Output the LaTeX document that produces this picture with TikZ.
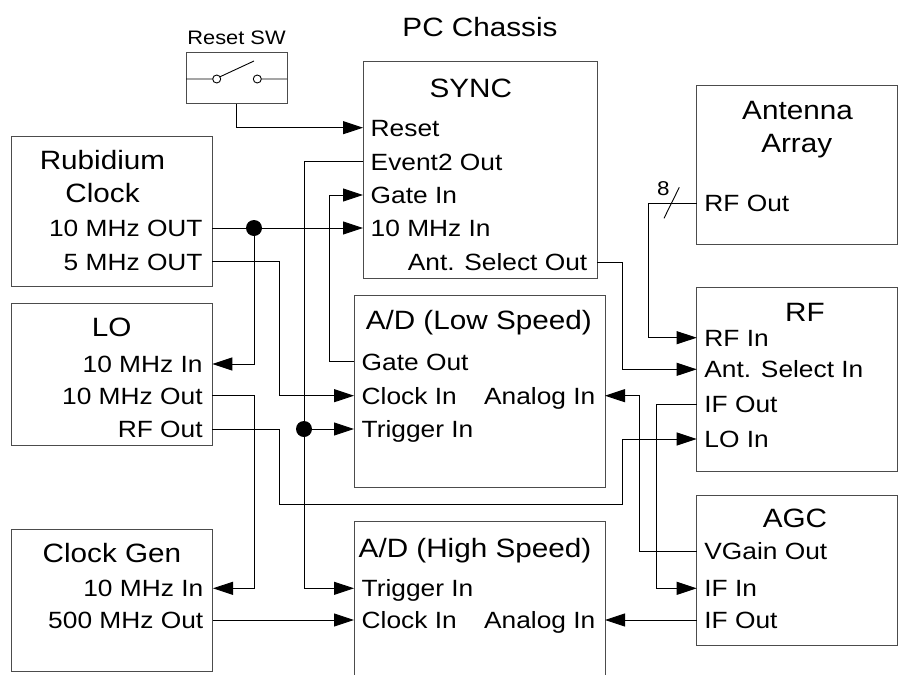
\documentclass[tikz,border=0pt]{standalone}
\usepackage{fontspec}
\setmainfont{Liberation Sans}[FakeStretch=1.12]
\usetikzlibrary{arrows.meta}
\begin{document}
\begin{tikzpicture}[x=1pt,y=-1pt,
  blk/.style={draw=black!70,line width=1pt,inner sep=0pt},
  ttl/.style={inner sep=0pt,text height=19pt,text depth=0pt,font=\fontsize{26.5}{30}\selectfont},
  portbase/.style={inner sep=0pt,text height=16.7pt,text depth=0pt,font=\fontsize{23.5}{28}\selectfont},
  portl/.style={portbase,anchor=west,inner xsep=7.5pt},
  portr/.style={portbase,anchor=east,inner xsep=9.5pt},
  sig/.style={draw=black,line width=0.9pt},
  sigarr/.style={sig,-{Triangle[length=20pt,width=13pt]}}]
% receiver blocks in the PC chassis
\useasboundingbox (0,0) rectangle (903,675);
\clip (0,0) rectangle (903,675);
\node[blk,minimum width=101pt,minimum height=51pt] (rsw) at (236.5,77.5) {};
\node[blk,minimum width=234pt,minimum height=217pt] (sync) at (480,169.5) {};
\node[blk,minimum width=200.6pt,minimum height=150pt] (rb) at (112,211.7) {};
\node[blk,minimum width=200.6pt,minimum height=142.4pt] (lo) at (112,374.5) {};
\node[blk,minimum width=251pt,minimum height=192.3pt] (adl) at (479.5,391.2) {};
\node[blk,minimum width=200.6pt,minimum height=159.3pt] (ant) at (797,165.3) {};
\node[blk,minimum width=200.6pt,minimum height=183.7pt] (rf) at (797,379.2) {};
\node[blk,minimum width=200.6pt,minimum height=149.7pt] (agc) at (797,570.8) {};
\node[blk,minimum width=251pt,minimum height=199pt] (adh) at (479.5,620.5) {};
\node[blk,minimum width=201.5pt,minimum height=142.4pt] (cg) at (112.2,600.5) {};
% titles
\node[ttl] (pcc) at (480,26.7) {PC Chassis};
\node[ttl,text height=13.3pt,font=\fontsize{19.5}{22}\selectfont] (rswt) at (236.5,38.3) {Reset SW};
\node[ttl] (synct) at (470.8,88) {SYNC};
\node[ttl] (rbt1) at (102.5,160) {Rubidium};
\node[ttl] (rbt2) at (102.5,193) {Clock};
\node[ttl] (lot) at (111.7,326.7) {LO};
\node[ttl] (adlt) at (478.8,320) {A/D (Low Speed)};
\node[ttl] (antt1) at (797.5,110) {Antenna};
\node[ttl] (antt2) at (796.7,143) {Array};
\node[ttl] (rft) at (805,312.3) {RF};
\node[ttl] (agct) at (795,518) {AGC};
\node[ttl] (adht) at (475,548.3) {A/D (High Speed)};
\node[ttl] (cgt) at (112,553.3) {Clock Gen};
% ports
\node[portl] (sreset) at (363,127.7) {Reset};
\node[portl] (sev) at (363,161.7) {Event2 Out};
\node[portl] (sgate) at (363,195) {Gate In};
\node[portl] (s10) at (363,228) {10 MHz In};
\node[portr] (santsel) at (597,262.3) {Ant. Select Out};
\node[portr] (rb10) at (212.3,228) {10 MHz OUT};
\node[portr] (rb5) at (212.3,261.7) {5 MHz OUT};
\node[portr] (lo10in) at (212.3,364) {10 MHz In};
\node[portr] (lo10out) at (212.3,395.7) {10 MHz Out};
\node[portr] (lorf) at (212.3,429) {RF Out};
\node[portl] (adlgate) at (354,361.7) {Gate Out};
\node[portl] (adlclk) at (354,395.7) {Clock In};
\node[portl] (adltrig) at (354,429) {Trigger In};
\node[portr] (adlana) at (605,395.7) {Analog In};
\node[portl] (antrf) at (696.7,203.3) {RF Out};
\node[portl] (rfin) at (696.7,337.7) {RF In};
\node[portl] (rfant) at (696.7,369.3) {Ant. Select In};
\node[portl] (rfif) at (696.7,404) {IF Out};
\node[portl] (rflo) at (696.7,439) {LO In};
\node[portl] (agcvg) at (696.7,551) {VGain Out};
\node[portl] (agcifin) at (696.7,588.3) {IF In};
\node[portl] (agcif) at (696.7,620) {IF Out};
\node[portl] (adhtrig) at (354,588.3) {Trigger In};
\node[portl] (adhclk) at (354,620) {Clock In};
\node[portr] (adhana) at (605,620) {Analog In};
\node[portr] (cg10in) at (213,588.3) {10 MHz In};
\node[portr] (cg500) at (213,620) {500 MHz Out};
% switch
\draw[sig] (186,79) -- (212.7,79) (261.3,79) -- (287,79) (219.5,77) -- (254,61);
\draw[sig] (216.7,79) circle (4pt) (257.3,79) circle (4pt);
% wiring
\coordinate (j1) at (254,228);
\coordinate (j2) at (304,429);
\coordinate (xb) at (279,0);
\coordinate (xe) at (329,0);
\coordinate (xf) at (622,0);
\coordinate (xg) at (639,0);
\coordinate (xh) at (648,0);
\coordinate (xi) at (656,0);
\coordinate (hlo) at (0,504);
\draw[sigarr] (rsw.south) |- (sreset.west);
\draw[sigarr] (rb10.east) -- (s10.west);
\draw[sigarr] (j1) |- (lo10in.east);
\draw[sigarr] (rb5.east) -| (xb |- adlclk.west) -- (adlclk.west);
\draw[sigarr] (sev.west) -| (j2 |- adhtrig.west) -- (adhtrig.west);
\draw[sigarr] (j2) -- (adltrig.west);
\draw[sigarr] (adlgate.west) -| (xe |- sgate.west) -- (sgate.west);
\draw[sigarr] (lo10out.east) -| (j1 |- cg10in.east) -- (cg10in.east);
\draw[sigarr] (lorf.east) -| (xb |- hlo) -| (xf |- rflo.west) -- (rflo.west);
\draw[sigarr] (santsel.east) -| (xf |- rfant.west) -- (rfant.west);
\draw[sigarr] (antrf.west) -| (xh |- rfin.west) -- (rfin.west);
\draw[sigarr] (rfif.west) -| (xi |- agcifin.west) -- (agcifin.west);
\draw[sigarr] (agcvg.west) -| (xg |- adlana.east) -- (adlana.east);
\draw[sigarr] (agcif.west) -- (adhana.east);
\draw[sigarr] (cg500.east) -- (adhclk.west);
\fill (j1) circle (8pt) (j2) circle (8pt);
% 8 line bus
\draw[sig] (664,218.3) -- (679.3,187.3);
\node[font=\fontsize{20}{22}\selectfont,inner sep=0pt] (busn) at (663.3,188.3) {8};
\end{tikzpicture}
\end{document}
